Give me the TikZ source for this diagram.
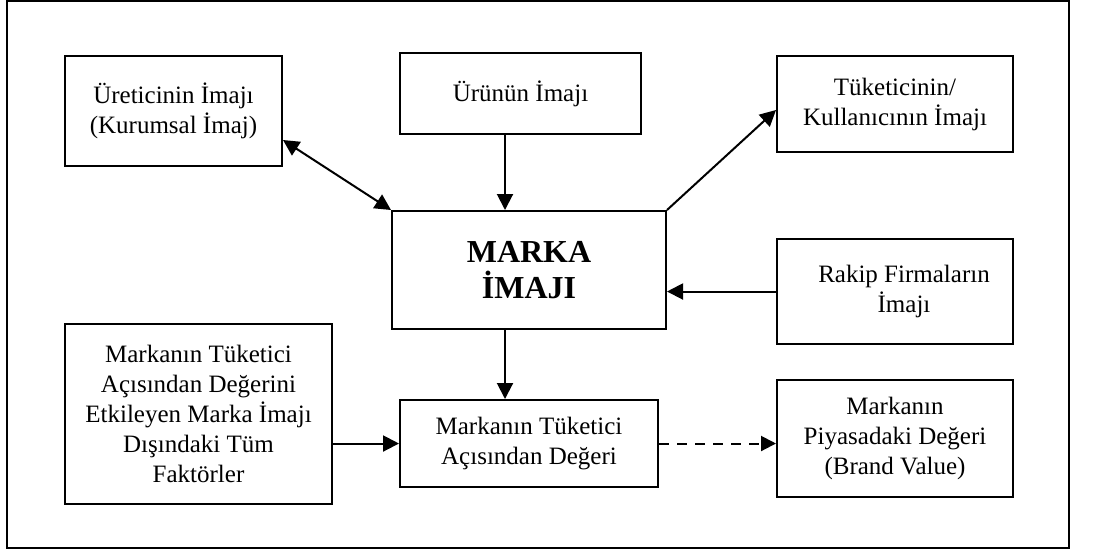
\documentclass[tikz,border=0pt]{standalone}
\usepackage{fontspec}
\setmainfont{Liberation Serif}
\usetikzlibrary{positioning, arrows.meta}

\begin{document}
\begin{tikzpicture}[x=0.5pt, y=-0.5pt, >={Triangle[length=8pt, width=8pt]}, line width=1pt,
    box/.style={draw, align=center, inner sep=0pt, font=\fontsize{12.5}{15}\selectfont}]
            \useasboundingbox (0,0) rectangle (1117,554);
            \draw (7,1) rectangle (1069,548);

            \node[box, minimum width=108.5pt, minimum height=55pt] (uretici) at (173.5,111) {Üreticinin İmajı\\(Kurumsal İmaj)};
            \node[box, minimum width=120.5pt, minimum height=40.5pt] (urun) at (520.5,93.5) {Ürünün İmajı};
            \node[box, minimum width=118pt, minimum height=48pt] (tuketici) at (895,104) {Tüketicinin/\\Kullanıcının İmajı};
            \node[box, minimum width=137pt, minimum height=59pt, font=\fontsize{16}{18}\selectfont\bfseries] (marka) at (529,270) {MARKA\\İMAJI};
            \node[box, minimum width=118pt, minimum height=52.5pt] (rakip) [below=42.5pt of tuketici] {\hspace*{9pt}Rakip Firmaların\\\hspace*{9pt}İmajı};
            \node[box, minimum width=133.5pt, minimum height=90pt] (faktor) at (198.5,414) {Markanın Tüketici\\Açısından Değerini\\Etkileyen Marka İmajı\\Dışındaki Tüm\\Faktörler};
            \node[box, minimum width=129pt, minimum height=43.5pt] (deger) [below=34.5pt of marka] {Markanın Tüketici\\Açısından Değeri};
            \node[box, minimum width=118pt, minimum height=58.5pt] (piyasa) [below=17pt of rakip] {Markanın\\Piyasadaki Değeri\\(Brand Value)};

            \coordinate (axis) at (505,0);

            \draw[<->] ([yshift=-14.5pt]uretici.east) -- (marka.north west);
            \draw[->] (urun.south -| axis) -- (marka.north -| axis);
            \draw[->] (marka.north east) -- ([yshift=-3pt]tuketici.west);
            \draw[->] (rakip.west) -- (rakip.west -| marka.east);
            \draw[->] (marka.south -| axis) -- (deger.north -| axis);
            \draw[->] (deger.west -| faktor.east) -- (deger.west);
            \draw[-{Triangle[length=7.5pt, width=7.5pt]}, dash pattern=on 5pt off 4pt] (deger.east) -- (deger.east -| piyasa.west);
        \end{tikzpicture}
\end{document}
